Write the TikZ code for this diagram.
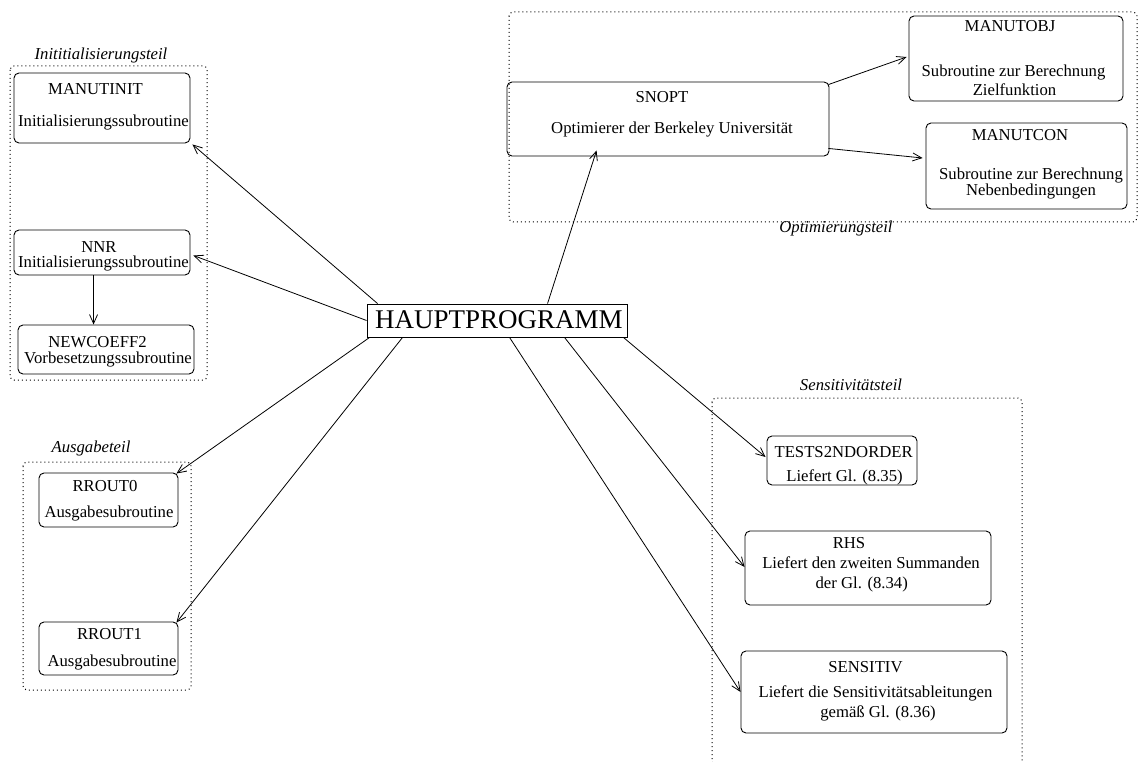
\documentclass[tikz,border=0pt]{standalone}
\usepackage{fontspec}
\setmainfont{Liberation Serif}
\usetikzlibrary{arrows.meta,calc}

\tikzset{
  routine/.style={draw, rounded corners=5pt, line width=0.9pt, inner sep=0pt},
  group/.style={draw, rounded corners=4pt, line width=1pt, dash pattern=on 1pt off 3pt},
  txt/.style={inner sep=0pt, anchor=base, font=\fontsize{16.7}{18}\selectfont},
  grouplabel/.style={txt, font=\fontsize{16.7}{18}\selectfont\itshape},
  call/.style={draw, line width=0.8pt, -{Straight Barb[length=9pt,width=8pt,line width=0.8pt]}},
}

\begin{document}
\begin{tikzpicture}[x=1pt,y=-1pt]
\useasboundingbox (0,0) rectangle (1138,762);

% ---- groups (dotted frames) ----
\draw[group] (10,66) rectangle (207,380);
\draw[group] (509,12) rectangle (1137,222);
\draw[group] (712,398) rectangle (1022,766);
\draw[group] (23,462) rectangle (191,690);

\node[grouplabel] (lInit) at (101,60) {Inititialisierungsteil};
\node[grouplabel] (lOpt)  at (836,233) {Optimierungsteil};
\node[grouplabel] (lSens) at (851,390) {Sensitivitätsteil};
\node[grouplabel] (lOut)  at (91,452) {Ausgabeteil};

% ---- main program ----
\node[draw, line width=0.9pt, minimum width=260, minimum height=33, inner sep=0pt] (hp) at (497,320.5) {};
\node[txt, font=\fontsize{27}{30}\selectfont] (hpT) at (499,328) {HAUPTPROGRAMM};

% ---- initialisation ----
\node[routine, minimum width=176, minimum height=70] (manutinit) at (102,108) {};
\node[txt] (manutinitA) at (95.5,95) {MANUTINIT};
\node[txt] (manutinitB) at (103.5,127) {Initialisierungssubroutine};

\node[routine, minimum width=176, minimum height=45] (nnr) at (102,252.5) {};
\node[txt] (nnrA) at (99,252) {NNR};
\node[txt] (nnrB) at (103.5,268) {Initialisierungssubroutine};

\node[routine, minimum width=176, minimum height=49] (newcoeff) at (106,349.5) {};
\node[txt] (newcoeffA) at (97.5,347) {NEWCOEFF2};
\node[txt] (newcoeffB) at (108,363) {Vorbesetzungssubroutine};

% ---- output ----
\node[routine, minimum width=139, minimum height=54] (rrout0) at (108.5,500) {};
\node[txt] (rrout0A) at (105,491) {RROUT0};
\node[txt] (rrout0B) at (109,517) {Ausgabesubroutine};

\node[routine, minimum width=139, minimum height=53] (rrout1) at (108.5,648.5) {};
\node[txt] (rrout1A) at (109.5,639) {RROUT1};
\node[txt] (rrout1B) at (112,666) {Ausgabesubroutine};

% ---- optimisation ----
\node[routine, minimum width=322, minimum height=74] (snopt) at (668,119) {};
\node[txt] (snoptA) at (662,102.5) {SNOPT};
\node[txt] (snoptB) at (672,134) {Optimierer der Berkeley Universität};

\node[routine, minimum width=214, minimum height=85] (manutobj) at (1016,58.5) {};
\node[txt] (manutobjA) at (1010,31.5) {MANUTOBJ};
\node[txt] (manutobjB) at (1013.5,77) {Subroutine zur Berechnung};
\node[txt] (manutobjC) at (1014.5,95.5) {Zielfunktion};

\node[routine, minimum width=201, minimum height=86] (manutcon) at (1026.5,166) {};
\node[txt] (manutconA) at (1020,140.5) {MANUTCON};
\node[txt] (manutconB) at (1031,180) {Subroutine zur Berechnung};
\node[txt] (manutconC) at (1031,195.5) {Nebenbedingungen};

% ---- sensitivity ----
\node[routine, minimum width=150, minimum height=49] (tests) at (842,460.5) {};
\node[txt] (testsA) at (843.7,457) {TESTS2NDORDER};
\node[txt] (testsB) at (844.5,481) {Liefert Gl. (8.35)};

\node[routine, minimum width=246, minimum height=74] (rhs) at (868,568) {};
\node[txt] (rhsA) at (849,548) {RHS};
\node[txt] (rhsB) at (871,568) {Liefert den zweiten Summanden};
\node[txt] (rhsC) at (861.7,588) {der Gl. (8.34)};

\node[routine, minimum width=266, minimum height=82] (sensitiv) at (874,692) {};
\node[txt] (sensitivA) at (865.5,672) {SENSITIV};
\node[txt] (sensitivB) at (875.5,697) {Liefert die Sensitivitätsableitungen};
\node[txt] (sensitivC) at (878,717) {gemäß Gl. (8.36)};

% ---- calls ----
\draw[call] ($(hp.north west)+(11,0)$) -- ($(manutinit.south east)+(2,1)$);
\draw[call] (hp.west) -- ($(nnr.east)+(3,3)$);
\draw[call] ($(nnr.south west)+(80,0)$) -- ($(newcoeff.north west)+(76,0)$);
\draw[call] ($(hp.south west)+(3,0)$) -- ($(rrout0.north east)+(-2,1)$);
\draw[call] ($(hp.south west)+(36,0)$) -- ($(rrout1.north east)+(-2,1)$);
\draw[call] ($(hp.north west)+(181,0)$) -- ($(snopt.south west)+(90,-6)$);
\draw[call] ($(snopt.north east)+(-1,3)$) -- ($(manutobj.west)+(-2,-1.5)$);
\draw[call] ($(snopt.south east)+(-1,-8)$) -- ($(manutcon.west)+(-3,-8)$);
\draw[call] ($(hp.south east)+(-4,0)$) -- ($(tests.west)+(-1,-3.5)$);
\draw[call] ($(hp.south west)+(198,0)$) -- ($(rhs.west)+(0,-1)$);
\draw[call] ($(hp.south west)+(143,0)$) -- (sensitiv.west);
\end{tikzpicture}
\end{document}
